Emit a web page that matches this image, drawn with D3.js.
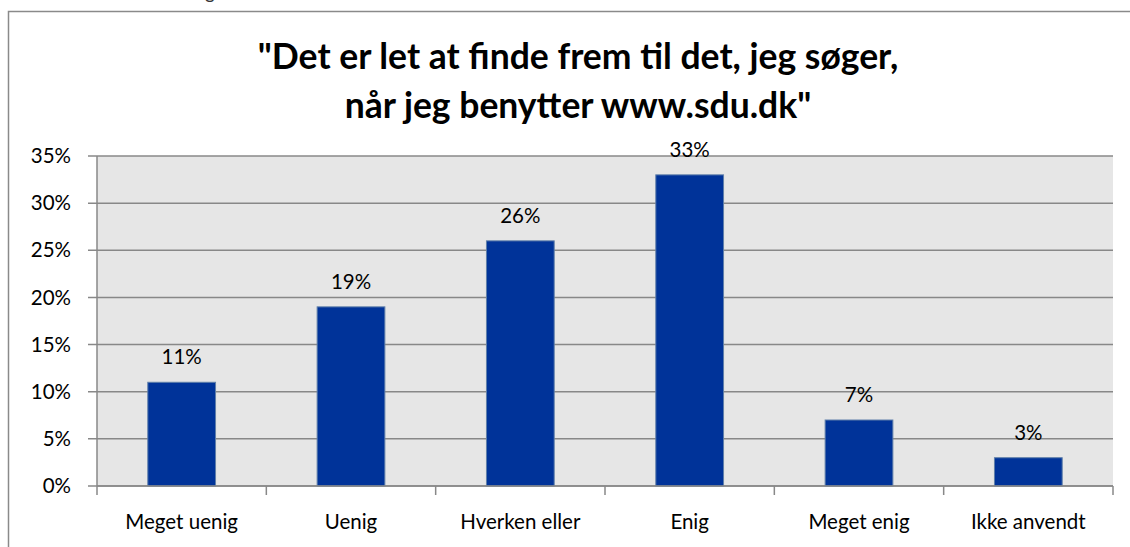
<!DOCTYPE html>
<html>
<head>
<meta charset="utf-8">
<script src="https://cdn.jsdelivr.net/npm/d3@7"></script>
<style>
  body { margin: 0; background: #fff; }
  svg { display: block; font-family: Lato, "Open Sans", sans-serif; }
</style>
</head>
<body>
<svg id="chart" width="1130" height="547"></svg>
<script>
var categories = ["Meget uenig", "Uenig", "Hverken eller", "Enig", "Meget enig", "Ikke anvendt"];
var values = [11, 19, 26, 33, 7, 3];
var yTicks = [0, 5, 10, 15, 20, 25, 30, 35];
var titleLines = ["\"Det er let at finde frem til det, jeg søger,", "når jeg benytter www.sdu.dk\""];

var svg = d3.select("#chart");
var margin = {top: 156, right: 17, bottom: 61, left: 97};
var width = +svg.attr("width") - margin.left - margin.right;
var height = +svg.attr("height") - margin.top - margin.bottom;

// cut-off text above the chart frame
svg.append("text")
    .attr("x", 205)
    .attr("y", -1)
    .style("font-size", "19px")
    .attr("fill", "#333")
    .text("g");

// outer chart frame (runs past the window on the right and bottom)
svg.append("rect")
    .attr("x", 8.5)
    .attr("y", 11.5)
    .attr("width", 1140)
    .attr("height", 560)
    .attr("fill", "#fff")
    .attr("stroke", "#8a8a8a")
    .attr("stroke-width", 1.5);

var title = svg.append("text")
    .attr("text-anchor", "middle")
    .style("font-size", "35.5px")
    .style("font-weight", "bold")
    .attr("fill", "#000");
title.selectAll("tspan")
  .data(titleLines)
  .enter().append("tspan")
    .attr("x", 578)
    .attr("y", function(d, i) { return 69 + i * 49; })
    .text(function(d) { return d; });

var g = svg.append("g").attr("transform", "translate(" + margin.left + "," + margin.top + ")");

var x = d3.scaleBand()
    .domain(categories)
    .range([0, width])
    .paddingInner(0.6)
    .paddingOuter(0.3);

var xb = d3.scaleBand().domain(categories).range([0, width]);

var y = d3.scaleLinear()
    .domain([0, 35])
    .range([height, 0]);

g.append("rect")
    .attr("width", width)
    .attr("height", height)
    .attr("fill", "#e6e6e6");

g.selectAll(".grid")
  .data(yTicks)
  .enter().append("line")
    .attr("class", "grid")
    .attr("x1", -9)
    .attr("x2", width)
    .attr("y1", function(d) { return y(d); })
    .attr("y2", function(d) { return y(d); })
    .attr("stroke", "#888")
    .attr("stroke-width", 1.5);

g.selectAll(".bar")
  .data(values)
  .enter().append("rect")
    .attr("class", "bar")
    .attr("x", function(d, i) { return x(categories[i]); })
    .attr("y", function(d) { return y(d); })
    .attr("width", x.bandwidth())
    .attr("height", function(d) { return height - y(d); })
    .attr("fill", "#003399")
    .attr("stroke", "#5f7faa")
    .attr("stroke-width", 1);

g.selectAll(".val")
  .data(values)
  .enter().append("text")
    .attr("class", "val")
    .attr("x", function(d, i) { return x(categories[i]) + x.bandwidth() / 2; })
    .attr("y", function(d) { return y(d) - 18; })
    .attr("text-anchor", "middle")
    .style("font-size", "20.5px")
    .attr("fill", "#000")
    .text(function(d) { return d + "%"; });

// y axis line
g.append("line")
    .attr("x1", 0).attr("x2", 0)
    .attr("y1", 0).attr("y2", height)
    .attr("stroke", "#888")
    .attr("stroke-width", 1.5);

g.selectAll(".ylab")
  .data(yTicks)
  .enter().append("text")
    .attr("class", "ylab")
    .attr("x", -26)
    .attr("y", function(d) { return y(d); })
    .attr("dy", "0.35em")
    .attr("text-anchor", "end")
    .style("font-size", "20.5px")
    .attr("fill", "#000")
    .text(function(d) { return d + "%"; });

// x axis
g.append("line")
    .attr("x1", 0).attr("x2", width)
    .attr("y1", height).attr("y2", height)
    .attr("stroke", "#888")
    .attr("stroke-width", 1.5);

var bounds = categories.map(function(c) { return xb(c); }).concat([width]);
g.selectAll(".xtick")
  .data(bounds)
  .enter().append("line")
    .attr("class", "xtick")
    .attr("x1", function(d) { return d; })
    .attr("x2", function(d) { return d; })
    .attr("y1", height)
    .attr("y2", height + 9)
    .attr("stroke", "#888")
    .attr("stroke-width", 1.5);

g.selectAll(".xlab")
  .data(categories)
  .enter().append("text")
    .attr("class", "xlab")
    .attr("x", function(d) { return xb(d) + xb.bandwidth() / 2; })
    .attr("y", height + 36)
    .attr("dy", "0.35em")
    .attr("text-anchor", "middle")
    .style("font-size", "20.5px")
    .attr("fill", "#000")
    .text(function(d) { return d; });
</script>
</body>
</html>
